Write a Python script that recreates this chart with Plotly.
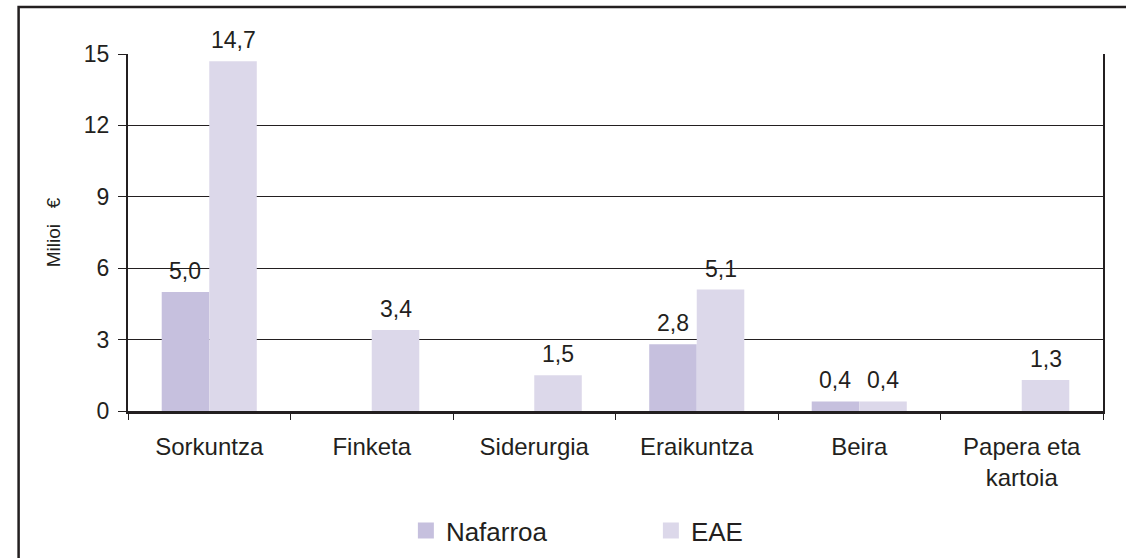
import plotly.graph_objects as go

categories = ["Sorkuntza", "Finketa", "Siderurgia", "Eraikuntza", "Beira", "Papera eta<br>kartoia"]
nafarroa = [5.0, None, None, 2.8, 0.4, None]
eae = [14.7, 3.4, 1.5, 5.1, 0.4, 1.3]
y_ticks = [0, 3, 6, 9, 12, 15]
series = [("Nafarroa", nafarroa, "#c6c0de"), ("EAE", eae, "#dcd8ea")]

FONT = "Liberation Sans, Arial, sans-serif"
TXT = "#231f20"

fig = go.Figure()
for name, vals, col in series:
    fig.add_trace(go.Bar(x=categories, y=vals, name=name, marker=dict(color=col, line=dict(width=0)),
                         showlegend=False))
# legend proxies (bigger square swatches)
for name, vals, col in series:
    fig.add_trace(go.Scatter(x=[None], y=[None], mode="markers", name=name,
                             marker=dict(symbol="square", size=16, color=col)))

annotations = []
shift = {"Nafarroa": -24, "EAE": 24}
for name, vals, col in series:
    for c, v in zip(categories, vals):
        if v is None:
            continue
        annotations.append(dict(x=c, y=v, xref="x", yref="y", text=f"{v:.1f}".replace(".", ","),
                                showarrow=False, xshift=shift[name], yshift=21, yanchor="middle",
                                font=dict(family=FONT, size=23, color=TXT)))

fig.update_layout(
    width=1126, height=558,
    margin=dict(l=128, r=23, t=54, b=147, autoexpand=False),
    paper_bgcolor="white", plot_bgcolor="white",
    barmode="group", bargap=0.415, bargroupgap=0,
    separators=",.",
    font=dict(family=FONT, color=TXT),
    annotations=annotations,
    legend=dict(orientation="h", x=0.285, xanchor="left", y=-0.335, yanchor="middle",
                font=dict(family=FONT, size=26, color=TXT), entrywidth=200, entrywidthmode="pixels",
                itemsizing="trace"),
    xaxis=dict(showline=True, linecolor="#231f20", linewidth=2.5, ticks="outside", tickson="boundaries",
               ticklen=6, tickwidth=1, tickcolor="#231f20", showgrid=False, ticklabelstandoff=12,
               automargin=False, tickfont=dict(family=FONT, size=24, color=TXT)),
    yaxis=dict(range=[0, 15], tickvals=y_ticks, showline=True, mirror=True, linecolor="#231f20", linewidth=2,
               ticks="outside", ticklen=8, tickwidth=1, tickcolor="#231f20", ticklabelstandoff=4,
               showgrid=True, gridcolor="#231f20", gridwidth=1, zeroline=False, automargin=False,
               tickfont=dict(family=FONT, size=23, color=TXT),
               title=dict(text="Milioi\u00a0\u00a0\u00a0€", font=dict(family=FONT, size=19, color=TXT), standoff=18)),
    shapes=[dict(type="rect", xref="paper", yref="paper", x0=-0.1122, x1=1.2, y0=-0.6, y1=1.1317,
                 line=dict(color="#231f20", width=2.5), fillcolor="rgba(0,0,0,0)", layer="above")],
)

fig.write_html("out.html", config={"displayModeBar": False},
               post_script="document.body.style.margin='0px';")
